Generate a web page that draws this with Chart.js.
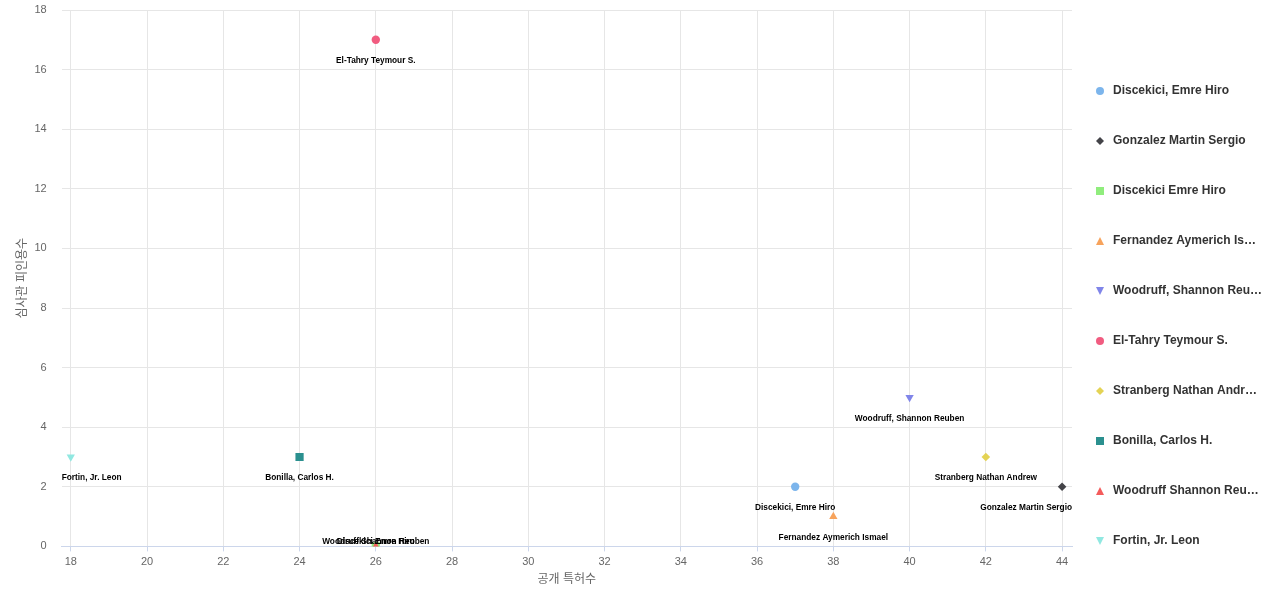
<!DOCTYPE html>
<html>
<head>
<meta charset="utf-8">
<script src="https://cdn.jsdelivr.net/npm/chart.js"></script>
<style>
  html, body { margin: 0; padding: 0; background: #fff; }
  #wrap { width: 1280px; height: 600px; position: relative; }
</style>
</head>
<body>
<div id="wrap"><canvas id="grafico"></canvas></div>
<script>
// inventori: brevetti pubblicati vs citazioni dell'esaminatore
const inventori = [
  'Discekici, Emre Hiro',
  'Gonzalez Martin Sergio',
  'Discekici Emre Hiro',
  'Fernandez Aymerich Ismael',
  'Woodruff, Shannon Reuben',
  'El-Tahry Teymour S.',
  'Stranberg Nathan Andrew',
  'Bonilla, Carlos H.',
  'Woodruff Shannon Reuben',
  'Fortin, Jr. Leon'
];
// testo della legenda come appare (troncato)
const vociLegenda = [
  'Discekici, Emre Hiro',
  'Gonzalez Martin Sergio',
  'Discekici Emre Hiro',
  'Fernandez Aymerich Is…',
  'Woodruff, Shannon Reu…',
  'El-Tahry Teymour S.',
  'Stranberg Nathan Andr…',
  'Bonilla, Carlos H.',
  'Woodruff Shannon Reu…',
  'Fortin, Jr. Leon'
];
const brevetti = [37, 44, 26, 38, 40, 26, 42, 24, 26, 18];
const citazioni = [2, 2, 0, 1, 5, 17, 3, 3, 0, 3];
const ticksX = [18, 20, 22, 24, 26, 28, 30, 32, 34, 36, 38, 40, 42, 44];
const ticksY = [0, 2, 4, 6, 8, 10, 12, 14, 16, 18];
const colori = ['#7cb5ec', '#434348', '#90ed7d', '#f7a35c', '#8085e9',
                '#f15c80', '#e4d354', '#2b908f', '#f45b5b', '#91e8e1'];
const simboli = ['circle', 'diamond', 'square', 'triangle', 'triangle-down'];

const FONT = '"Liberation Sans", Arial, "Noto Sans CJK KR", sans-serif';

// simbolo -> stile chart.js
function stile(s) {
  if (s === 'circle') return { pointStyle: 'circle', rotation: 0, r: 4.2 };
  if (s === 'diamond') return { pointStyle: 'rectRot', rotation: 0, r: 4.3 };
  if (s === 'square') return { pointStyle: 'rect', rotation: 0, r: 5.8 };
  if (s === 'triangle') return { pointStyle: 'triangle', rotation: 0, r: 4.8 };
  return { pointStyle: 'triangle', rotation: 180, r: 4.8 };
}

const datasets = inventori.map((nome, i) => {
  const st = stile(simboli[i % simboli.length]);
  return {
    label: nome,
    data: [{ x: brevetti[i], y: citazioni[i] }],
    backgroundColor: colori[i],
    borderWidth: 0,
    pointStyle: st.pointStyle,
    rotation: st.rotation,
    pointRadius: st.r,
    pointHoverRadius: st.r,
    order: -i
  };
});

// disegno manuale dei marker della legenda
function marker(ctx, s, x, y, col) {
  ctx.fillStyle = col;
  ctx.beginPath();
  if (s === 'circle') {
    ctx.arc(x, y, 4, 0, Math.PI * 2);
  } else if (s === 'diamond') {
    ctx.moveTo(x, y - 4); ctx.lineTo(x + 4, y); ctx.lineTo(x, y + 4); ctx.lineTo(x - 4, y);
  } else if (s === 'square') {
    ctx.rect(x - 4, y - 4, 8, 8);
  } else if (s === 'triangle') {
    ctx.moveTo(x, y - 4); ctx.lineTo(x + 4, y + 4); ctx.lineTo(x - 4, y + 4);
  } else {
    ctx.moveTo(x - 4, y - 4); ctx.lineTo(x + 4, y - 4); ctx.lineTo(x, y + 4);
  }
  ctx.closePath();
  ctx.fill();
}

const legendaDestra = {
  id: 'legendaDestra',
  afterDraw(chart) {
    const { ctx, chartArea: a } = chart;
    ctx.save();
    ctx.font = 'bold 12px ' + FONT;
    ctx.textBaseline = 'middle';
    ctx.textAlign = 'left';
    vociLegenda.forEach((testo, i) => {
      const y = a.top + 81 + i * 50;
      const x = a.right + 28;
      marker(ctx, simboli[i % simboli.length], x, y, colori[i]);
      ctx.fillStyle = '#333333';
      ctx.fillText(testo, x + 13, y);
    });
    ctx.restore();
  }
};

const etichettePunti = {
  id: 'etichettePunti',
  afterDatasetsDraw(chart) {
    const { ctx, chartArea: a } = chart;
    ctx.save();
    ctx.font = 'bold 8.3px ' + FONT;
    ctx.fillStyle = '#000';
    ctx.textBaseline = 'middle';
    ctx.textAlign = 'left';
    chart.data.datasets.forEach((ds, i) => {
      const p = chart.getDatasetMeta(i).data[0];
      const w = ctx.measureText(ds.label).width;
      let x = p.x - w / 2;
      x = Math.max(a.left, Math.min(x, a.right - w));
      const y = Math.min(p.y + 21, a.bottom - 5);
      ctx.fillText(ds.label, x, y);
    });
    ctx.restore();
  }
};

new Chart(document.getElementById('grafico'), {
  type: 'scatter',
  data: { datasets },
  plugins: [etichettePunti, legendaDestra],
  options: {
    responsive: true,
    maintainAspectRatio: false,
    animation: false,
    events: [],
    layout: { padding: { left: 11, right: 208, top: 10, bottom: 9 } },
    plugins: { legend: { display: false }, tooltip: { enabled: false } },
    scales: {
      x: {
        type: 'linear',
        min: 17.76,
        max: 44.26,
        afterBuildTicks: s => { s.ticks = ticksX.map(v => ({ value: v })); },
        grid: { color: '#e6e6e6', tickLength: 5, tickColor: '#ccd6eb' },
        border: { color: '#ccd6eb' },
        ticks: { color: '#666666', font: { size: 11, family: FONT }, padding: 4, maxRotation: 0, autoSkip: false },
        title: { display: true, text: '공개 특허수', color: '#666666', font: { size: 12, family: FONT }, padding: { top: 0, bottom: 4 } }
      },
      y: {
        min: 0,
        max: 18,
        afterBuildTicks: s => { s.ticks = ticksY.map(v => ({ value: v })); },
        grid: { color: '#e6e6e6', drawTicks: true, tickLength: 12, tickColor: 'rgba(0,0,0,0)' },
        border: { display: false },
        ticks: { color: '#666666', font: { size: 11, family: FONT }, padding: 3 },
        title: { display: true, text: '심사관 피인용수', color: '#666666', font: { size: 12, family: FONT }, padding: { top: 4, bottom: 2 } }
      }
    }
  }
});
</script>
</body>
</html>
